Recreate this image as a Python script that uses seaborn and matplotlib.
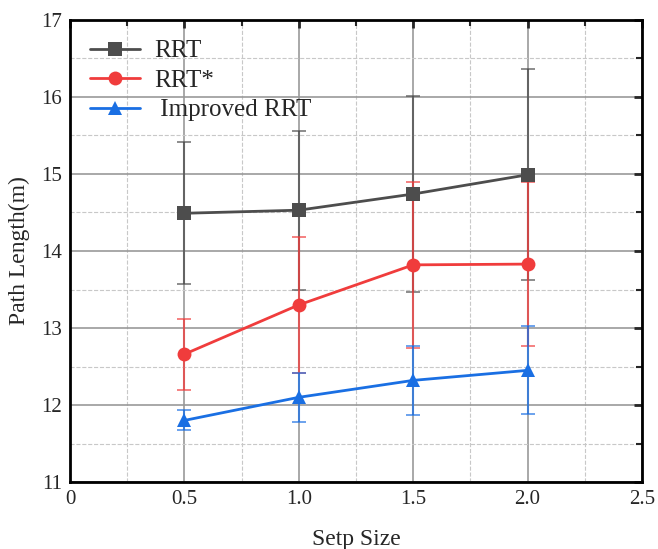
import pandas as pd
import numpy as np
import seaborn as sns
import matplotlib.pyplot as plt
from matplotlib.ticker import MultipleLocator

# data
step = [0.5, 1.0, 1.5, 2.0]
rrt = [14.49, 14.53, 14.74, 14.99]
rrt_err = [0.92, 1.03, 1.27, 1.37]
rrt_star = [12.66, 13.30, 13.82, 13.83]
rrt_star_err = [0.46, 0.88, 1.08, 1.06]
imp_rrt = [11.80, 12.10, 12.32, 12.45]
imp_rrt_err = [0.13, 0.32, 0.45, 0.57]

names = ["RRT", "RRT*", " Improved RRT"]
colors = ["#4d4d4d", "#f03c3c", "#1a6fe3"]
markers = ["s", "o", "^"]

df = pd.DataFrame({
    "step": step * 3,
    "length": rrt + rrt_star + imp_rrt,
    "err": rrt_err + rrt_star_err + imp_rrt_err,
    "method": [names[0]] * 4 + [names[1]] * 4 + [names[2]] * 4,
})

sns.set_style("white")
plt.rcParams["font.family"] = ["Liberation Serif", "DejaVu Serif"]

fig = plt.figure(figsize=(6.58, 5.49), dpi=100)
ax = fig.add_axes([0.1064, 0.122, 0.8693, 0.8416])

# error bars first so the lines sit on top
for n, c in zip(names, colors):
    d = df[df["method"] == n]
    ax.errorbar(d["step"], d["length"], yerr=d["err"], fmt="none",
                ecolor=c, alpha=0.75, elinewidth=1.5, capsize=5, capthick=1.2, zorder=3)

sns.lineplot(data=df, x="step", y="length", hue="method", style="method",
             palette=colors, markers=markers, dashes=False, markersize=10,
             markeredgewidth=0, linewidth=2, ax=ax, zorder=4)

ax.set_xlim(0, 2.5)
ax.set_ylim(11, 17)
ax.xaxis.set_major_locator(MultipleLocator(0.5))
ax.xaxis.set_minor_locator(MultipleLocator(0.25))
ax.yaxis.set_major_locator(MultipleLocator(1))
ax.yaxis.set_minor_locator(MultipleLocator(0.5))
ax.set_xticks([0, 0.5, 1.0, 1.5, 2.0, 2.5])
ax.set_xticklabels(["0", "0.5", "1.0", "1.5", "2.0", "2.5"])

ax.grid(which="major", color="#999999", linestyle="-", linewidth=1.2)
ax.grid(which="minor", color="#c8c8c8", linestyle="--", linewidth=0.8)
ax.set_axisbelow(True)

ax.tick_params(which="both", direction="in", top=True, right=True,
               labelsize=15, pad=6)
ax.tick_params(which="major", length=6, width=2)
ax.tick_params(which="minor", length=4, width=1.5)
for s in ax.spines.values():
    s.set_linewidth(2)
    s.set_color("black")

ax.set_xlabel("Setp Size", fontsize=17, labelpad=14)
ax.set_ylabel("Path Length(m)", fontsize=17, labelpad=8)

leg = ax.legend(loc="upper left", frameon=False, fontsize=18, handlelength=2.0,
                handletextpad=0.55, borderaxespad=0.4, labelspacing=0.28,
                bbox_to_anchor=(0.0, 1.0))

fig.savefig("out.png", dpi=100)
